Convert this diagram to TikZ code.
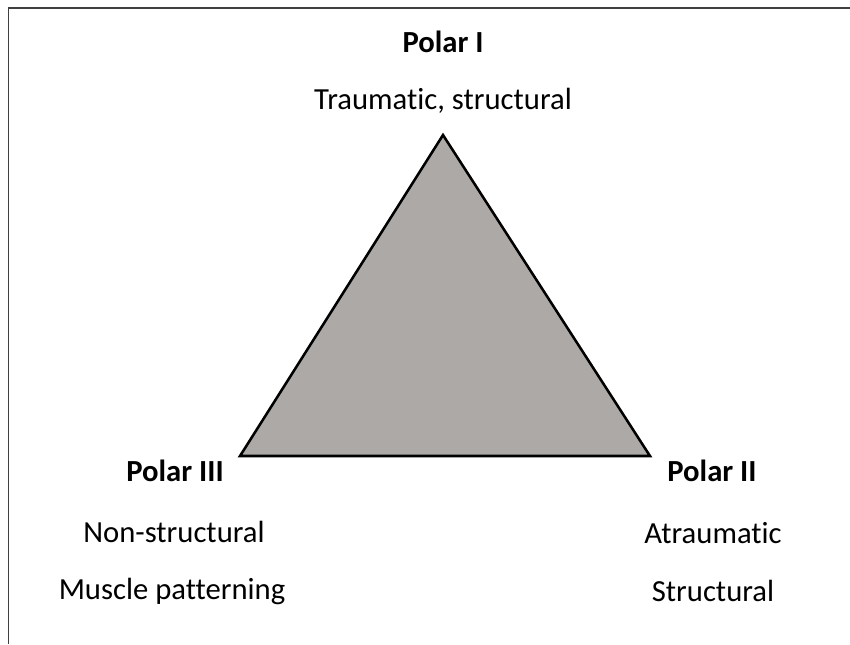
\documentclass[tikz,border=0pt]{standalone}
\usepackage{fontspec}
\setmainfont{Carlito}[Ligatures={NoCommon}]
\usepackage{tikz}
\usepackage{xcolor}
\definecolor{triafill}{RGB}{173,169,167}
\definecolor{framegray}{RGB}{64,64,64}

\begin{document}
\begin{tikzpicture}[x=0.75pt,y=-0.75pt,font=\fontsize{23}{27}\selectfont,line join=miter,
  pole/.style={font=\fontsize{23}{27}\selectfont\bfseries,inner sep=0pt},
  desc/.style={inner sep=0pt}]
\useasboundingbox (0,0) rectangle (850,644);
\draw[framegray,line width=1.3pt] (8.5,644) -- (8.5,8) -- (850,8);
\coordinate (top) at (443,135);
\coordinate (left) at (240,456);
\coordinate (right) at (650,456);
\filldraw[fill=triafill,draw=black,line width=1.9pt] (top) -- (left) -- (right) -- cycle;
\node[pole] (p1) at (443,42) {Polar I};
\node[desc] (p1a) at (443,101) {Traumatic, structural};
\node[pole] (p3) at (175,471) {Polar III};
\node[desc] (p3a) at (174,532) {Non-structural};
\node[desc] (p3b) at (172,591) {Muscle patterning};
\node[pole] (p2) at (712,471) {Polar II};
\node[desc] (p2a) at (713,533) {Atraumatic};
\node[desc] (p2b) at (713,591) {Structural};
\end{tikzpicture}
\end{document}
